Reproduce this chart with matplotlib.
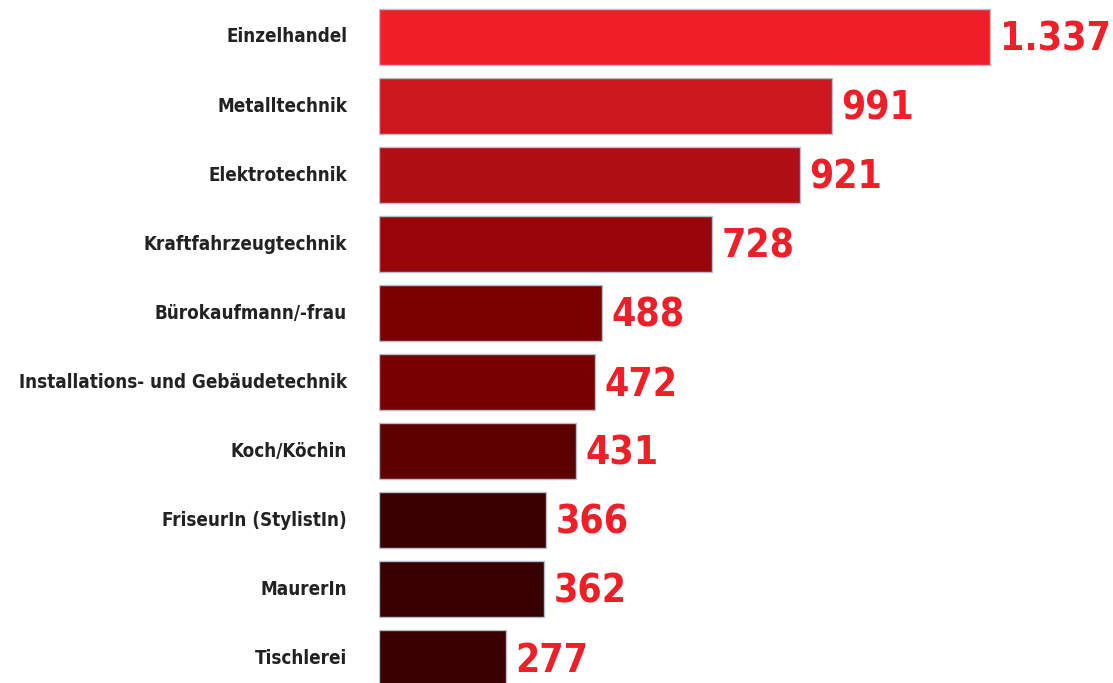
import matplotlib.pyplot as plt

# Data
categories = ['Einzelhandel', 'Metalltechnik', 'Elektrotechnik', 'Kraftfahrzeugtechnik',
              'Bürokaufmann/-frau', 'Installations- und Gebäudetechnik', 'Koch/Köchin',
              'FriseurIn (StylistIn)', 'MaurerIn', 'Tischlerei']
values = [1337, 991, 921, 728, 488, 472, 431, 366, 362, 277]
value_labels = ['1.337', '991', '921', '728', '488', '472', '431', '366', '362', '277']
bar_colors = ['#ee1f26', '#cc171e', '#b10f16', '#98060b', '#7a0000',
              '#780000', '#5e0000', '#380000', '#380000', '#380000']

fig = plt.figure(figsize=(11.13, 6.83), dpi=100)
ax = fig.add_axes([379 / 1113, 0, 1 - 379 / 1113, 1])

y = list(range(len(categories)))
ax.barh(y, values, height=0.81, color=bar_colors, edgecolor='#b4c0cc', linewidth=1)

ax.set_xlim(0, (1113 - 379) / 0.457)
ax.set_ylim(9.36, -0.536)
ax.axis('off')

# value labels right of the bars
for i, (v, lab) in enumerate(zip(values, value_labels)):
    ax.annotate(lab, (v, i), xytext=(7, -2), textcoords='offset points',
                ha='left', va='center', color='#ee1f26', fontsize=28,
                fontweight='bold', family='DejaVu Sans', fontstretch='condensed')

# category names left of the bars
for i, cat in enumerate(categories):
    ax.annotate(cat, (0, i), xytext=(-23, 0), textcoords='offset points',
                ha='right', va='center', color='#222222', fontsize=13.5,
                fontweight='bold', family='DejaVu Sans', fontstretch='condensed',
                annotation_clip=False)

fig.savefig('out.png', dpi=100)
